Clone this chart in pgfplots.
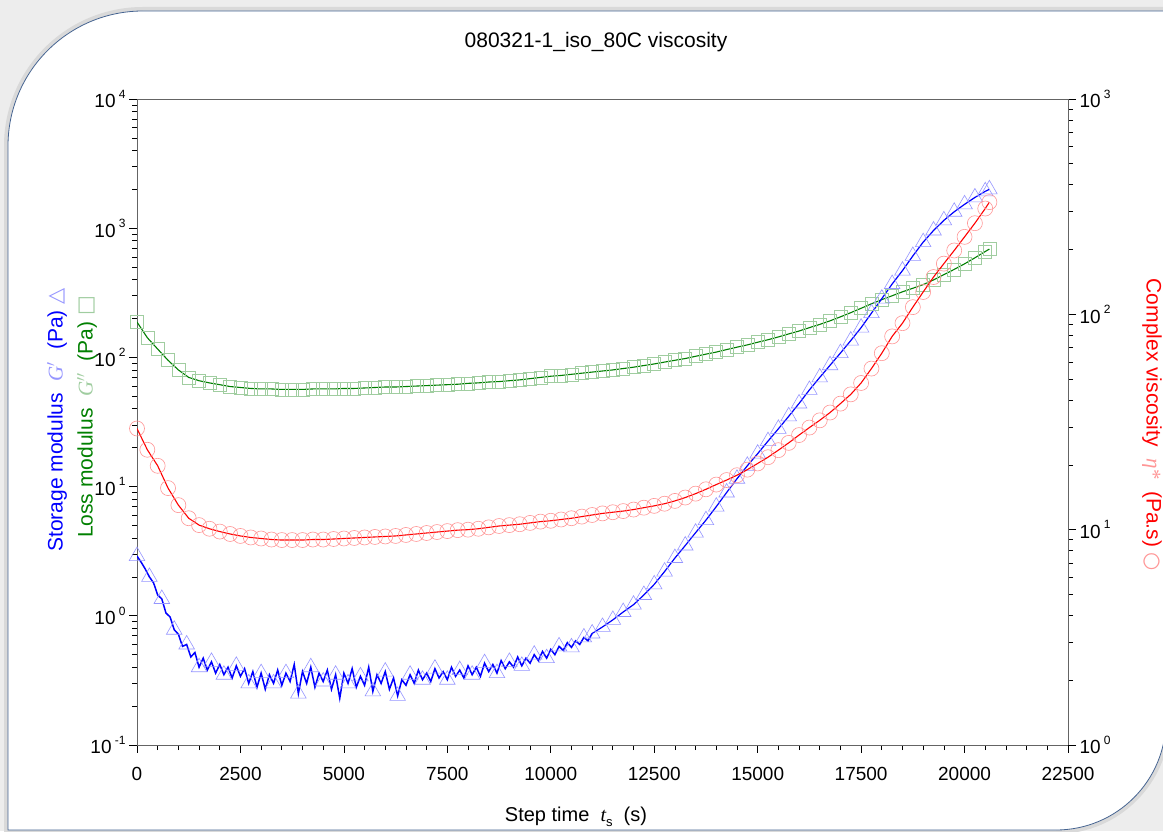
\documentclass[border=0pt]{standalone}
\usepackage{pgfplots}
\pgfplotsset{compat=1.18}
\usepackage{pgfplotstable}
\usepackage{fontspec}
\setmainfont{Liberation Sans}
\newfontfamily\symfont{DejaVu Sans}
\newfontfamily\seriffont{Liberation Serif}

\definecolor{gpline}{RGB}{0,0,255}
\definecolor{gpmark}{RGB}{150,150,255}
\definecolor{gdpline}{RGB}{0,128,0}
\definecolor{gdpmark}{RGB}{160,205,160}
\definecolor{etaline}{RGB}{255,0,0}
\definecolor{etamark}{RGB}{255,150,150}
\definecolor{frameblue}{RGB}{70,100,145}
\definecolor{axisgray}{RGB}{100,100,100}

\newcommand\decade[1]{10\,\raisebox{0.5em}{\fontsize{12}{12}\selectfont#1}}

% storage modulus G' (Pa), noisy part
\pgfplotstableread[row sep=\\]{
t v\\
0 2.9\\ 100 2.6\\ 200 2.3\\ 300 2.0\\ 400 1.8\\ 500 1.45\\ 600 1.35\\ 700 1.05\\ 800 0.98\\ 900 0.78\\
1000 0.72\\ 1100 0.58\\ 1200 0.60\\ 1300 0.48\\ 1400 0.52\\ 1500 0.40\\ 1600 0.47\\ 1700 0.38\\ 1800 0.44\\ 1900 0.36\\
2000 0.42\\ 2100 0.35\\ 2200 0.40\\ 2300 0.33\\ 2400 0.41\\ 2500 0.34\\ 2600 0.39\\ 2700 0.30\\ 2800 0.37\\ 2900 0.28\\
3000 0.36\\ 3100 0.27\\ 3200 0.35\\ 3300 0.30\\ 3400 0.38\\ 3500 0.29\\ 3600 0.36\\ 3700 0.31\\ 3800 0.42\\ 3900 0.25\\
4000 0.37\\ 4100 0.30\\ 4200 0.40\\ 4300 0.28\\ 4400 0.36\\ 4500 0.31\\ 4600 0.38\\ 4700 0.27\\ 4800 0.35\\ 4900 0.23\\
5000 0.36\\ 5100 0.30\\ 5200 0.39\\ 5300 0.28\\ 5400 0.34\\ 5500 0.29\\ 5600 0.40\\ 5700 0.26\\ 5800 0.35\\ 5900 0.30\\
6000 0.37\\ 6100 0.27\\ 6200 0.33\\ 6300 0.24\\ 6400 0.32\\ 6500 0.29\\ 6600 0.35\\ 6700 0.30\\ 6800 0.38\\ 6900 0.32\\
7000 0.36\\ 7100 0.31\\ 7200 0.39\\ 7300 0.33\\ 7400 0.37\\ 7500 0.32\\ 7600 0.40\\ 7700 0.34\\ 7800 0.38\\ 7900 0.33\\
8000 0.41\\ 8100 0.35\\ 8200 0.40\\ 8300 0.34\\ 8400 0.43\\ 8500 0.37\\ 8600 0.42\\ 8700 0.36\\ 8800 0.45\\ 8900 0.39\\
9000 0.44\\ 9100 0.40\\ 9200 0.48\\ 9300 0.41\\ 9400 0.47\\ 9500 0.43\\ 9600 0.50\\ 9700 0.45\\ 9800 0.53\\ 9900 0.47\\
10000 0.55\\ 10100 0.50\\ 10200 0.58\\ 10300 0.54\\ 10400 0.62\\ 10500 0.57\\ 10600 0.64\\ 10700 0.60\\ 10800 0.68\\ 10900 0.64\\
11000 0.73\\
}\gpnoisy

% storage modulus G' (Pa), rising part
\pgfplotstableread[row sep=\\]{
t v\\
11000 0.73\\ 11250 0.82\\ 11500 0.93\\ 11750 1.07\\ 12000 1.22\\ 12250 1.45\\ 12500 1.75\\ 12750 2.2\\
13000 2.8\\ 13250 3.5\\ 13500 4.4\\ 13750 5.5\\ 14000 7.0\\ 14250 9.0\\ 14500 11.5\\ 14750 14.5\\
15000 18\\ 15250 22.5\\ 15500 28\\ 15750 35\\ 16000 44\\ 16250 56\\ 16500 70\\ 16750 87\\
17000 108\\ 17250 135\\ 17500 170\\ 17750 220\\ 18000 285\\ 18250 370\\ 18500 470\\ 18750 610\\
19000 780\\ 19250 960\\ 19500 1150\\ 19750 1340\\ 20000 1530\\ 20250 1730\\ 20500 1930\\ 20600 2000\\
}\gprise

% loss modulus G'' (Pa)
\pgfplotstableread[row sep=\\]{
t v\\
0 188\\ 250 142\\ 500 116\\ 750 95\\ 1000 80\\ 1250 70\\ 1500 66\\ 1750 63.5\\ 2000 61.5\\ 2250 59.5\\
2500 58.5\\ 2750 57.5\\ 3000 57\\ 3250 57\\ 3500 56.5\\ 3750 56.5\\ 4000 56.5\\ 4250 57\\ 4500 57\\ 4750 57\\
5000 57.5\\ 5250 57.5\\ 5500 58\\ 5750 58.5\\ 6000 59\\ 6250 59\\ 6500 59.5\\ 6750 60\\ 7000 60.5\\ 7250 61\\
7500 61.5\\ 7750 62\\ 8000 63\\ 8250 63.5\\ 8500 64.5\\ 8750 65\\ 9000 66\\ 9250 67\\ 9500 68.5\\ 9750 70\\
10000 71.5\\ 10250 72.5\\ 10500 74\\ 10750 75.5\\ 11000 77\\ 11250 78.5\\ 11500 80\\ 11750 82\\ 12000 84\\ 12250 86.5\\
12500 89\\ 12750 92\\ 13000 95\\ 13250 98\\ 13500 102\\ 13750 106\\ 14000 110\\ 14250 115\\ 14500 120\\ 14750 125\\
15000 131\\ 15250 137\\ 15500 144\\ 15750 152\\ 16000 160\\ 16250 170\\ 16500 180\\ 16750 192\\ 17000 206\\ 17250 222\\
17500 240\\ 17750 260\\ 18000 280\\ 18250 300\\ 18500 322\\ 18750 343\\ 19000 366\\ 19250 398\\ 19500 437\\ 19750 480\\
20000 530\\ 20250 590\\ 20500 660\\ 20600 690\\
}\gdp

% complex viscosity eta* (Pa.s)
\pgfplotstableread[row sep=\\]{
t v\\
0 29.5\\ 250 23.5\\ 500 19.8\\ 750 15.6\\ 1000 13\\ 1250 11.3\\ 1500 10.5\\ 1750 10.1\\ 2000 9.8\\ 2250 9.55\\
2500 9.35\\ 2750 9.2\\ 3000 9.1\\ 3250 9.0\\ 3500 8.95\\ 3750 8.95\\ 4000 8.95\\ 4250 9.0\\ 4500 9.0\\ 4750 9.05\\
5000 9.1\\ 5250 9.15\\ 5500 9.2\\ 5750 9.25\\ 6000 9.3\\ 6250 9.35\\ 6500 9.45\\ 6750 9.55\\ 7000 9.65\\ 7250 9.75\\
7500 9.85\\ 7750 9.95\\ 8000 10.0\\ 8250 10.1\\ 8500 10.25\\ 8750 10.4\\ 9000 10.5\\ 9250 10.6\\ 9500 10.75\\ 9750 10.9\\
10000 11.0\\ 10250 11.15\\ 10500 11.3\\ 10750 11.5\\ 11000 11.7\\ 11250 11.9\\ 11500 12.05\\ 11750 12.2\\ 12000 12.4\\ 12250 12.65\\
12500 12.9\\ 12750 13.2\\ 13000 13.6\\ 13250 14.1\\ 13500 14.7\\ 13750 15.4\\ 14000 16.2\\ 14250 17.0\\ 14500 17.9\\ 14750 19.0\\
15000 20.3\\ 15250 21.7\\ 15500 23.4\\ 15750 25.3\\ 16000 27.5\\ 16250 29.8\\ 16500 32.2\\ 16750 35\\ 17000 38.5\\ 17250 42.5\\
17500 48\\ 17750 56\\ 18000 66\\ 18250 79\\ 18500 91\\ 18750 108\\ 19000 127\\ 19250 149\\ 19500 172\\ 19750 198\\
20000 229\\ 20250 265\\ 20500 310\\ 20600 332\\
}\etatab

\begin{document}
\begin{tikzpicture}
\useasboundingbox (0pt,0pt) rectangle (1163pt,831pt);
\fill[gray!14] (0pt,0pt) rectangle (1163pt,831pt);
% rounded frame
\draw[gray!30,line width=8pt] (8pt,1pt) -- (8pt,685pt) arc[start angle=180,end angle=90,radius=135pt] -- (1166pt,820pt) -- (1166pt,111pt) arc[start angle=0,end angle=-90,radius=110pt] -- cycle;
\filldraw[fill=white,draw=frameblue,line width=0.8pt] (8pt,1pt) -- (8pt,685pt) arc[start angle=180,end angle=90,radius=135pt] -- (1166pt,820pt) -- (1166pt,111pt) arc[start angle=0,end angle=-90,radius=110pt] -- cycle;

\begin{axis}[
  at={(137pt,86pt)}, anchor=south west, scale only axis,
  width=931pt, height=646pt,
  xmin=0, xmax=22500,
  ymode=log, log basis y=10, ymin=0.1, ymax=10000,
  xtick={0,2500,...,22500}, minor x tick num=4,
  scaled x ticks=false,
  ytick={0.1,1,10,100,1000,10000},
  minor ytick={0.2,0.3,0.4,0.5,0.6,0.7,0.8,0.9,2,3,4,5,6,7,8,9,20,30,40,50,60,70,80,90,200,300,400,500,600,700,800,900,2000,3000,4000,5000,6000,7000,8000,9000},
  tick pos=left, tick align=outside,
  major tick length=8pt, minor tick length=5pt,
  axis line style={axisgray,line width=1pt},
  tick style={black,line width=0.7pt},
  xticklabel={\pgfmathprintnumber[fixed,precision=0,1000 sep={},assume math mode=true]{\tick}},
  yticklabel={\pgfmathparse{int(round(\tick))}\decade{\pgfmathresult}},
  ticklabel style={font=\fontsize{19}{21}\selectfont},
  xticklabel style={yshift=-11pt},
]
\addplot[only marks, mark=square, mark size=6.5pt, mark options={draw=gdpmark, line width=0.6pt}] table {\gdp};
\addplot[gdpline, line width=1.1pt] table {\gdp};
\addplot[only marks, mark=triangle, mark size=9pt, mark repeat=3, mark options={draw=gpmark, line width=0.6pt}] table {\gpnoisy};
\addplot[only marks, mark=triangle, mark size=9pt, mark options={draw=gpmark, line width=0.6pt}] table {\gprise};
\addplot[gpline, line width=1.5pt] table {\gpnoisy};
\addplot[gpline, line width=1.2pt] table {\gprise};
\end{axis}

\begin{axis}[
  at={(137pt,86pt)}, anchor=south west, scale only axis,
  width=931pt, height=646pt,
  xmin=0, xmax=22500, hide x axis,
  ymode=log, log basis y=10, ymin=1, ymax=1000,
  axis y line*=right, tick align=outside,
  ytick={1,10,100,1000},
  minor ytick={2,3,4,5,6,7,8,9,20,30,40,50,60,70,80,90,200,300,400,500,600,700,800,900},
  major tick length=8pt, minor tick length=5pt,
  axis line style={axisgray,line width=1pt},
  tick style={black,line width=0.7pt},
  yticklabel={\pgfmathparse{int(round(\tick))}\decade{\pgfmathresult}},
  ticklabel style={font=\fontsize{19}{21}\selectfont},
]
\addplot[only marks, mark=o, mark size=7.5pt, mark options={draw=etamark, line width=0.6pt}] table {\etatab};
\addplot[etaline, line width=1.1pt] table {\etatab};
\end{axis}

% title and axis labels
\node[font=\fontsize{21}{23}\selectfont] at (596pt,789pt) {080321-1\_iso\_80C viscosity};
\node[font=\fontsize{20}{22}\selectfont] at (576pt,14pt) {Step time\ \ {\seriffont\itshape t}\raisebox{-0.25em}{\fontsize{13}{13}\selectfont s}\ \ (s)};
\node[rotate=90, font=\fontsize{21}{23}\selectfont] at (57pt,411pt) {\textcolor{gpline}{Storage modulus}\ \ \textcolor{gpmark}{\seriffont\itshape G$'$}\ \ \textcolor{gpline}{(Pa)}\ \textcolor{gpmark}{\symfont △}};
\node[rotate=90, font=\fontsize{21}{23}\selectfont] at (87pt,414pt) {\textcolor{gdpline}{Loss modulus}\ \ \textcolor{gdpmark}{\seriffont\itshape G$''$}\ \ \textcolor{gdpline}{(Pa)}\ \textcolor{gdpmark}{\symfont □}};
\node[rotate=-90, font=\fontsize{21}{23}\selectfont] at (1152pt,406pt) {\textcolor{etaline}{Complex viscosity}\ \ \textcolor{etamark}{\seriffont\itshape η*}\ \ \textcolor{etaline}{(Pa.s)}\ \textcolor{etamark}{\symfont ○}};
\end{tikzpicture}
\end{document}
